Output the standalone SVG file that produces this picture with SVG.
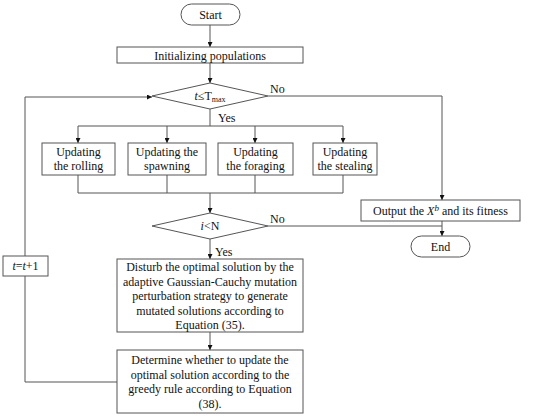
<svg xmlns="http://www.w3.org/2000/svg" width="550" height="417" viewBox="0 0 550 417">
<style>
.n{fill:#fff;stroke:#555;stroke-width:1}
.t{font-family:"Liberation Serif","Times New Roman",serif;font-size:12px;fill:#111;text-anchor:middle}
.l{font-family:"Liberation Serif","Times New Roman",serif;font-size:12px;fill:#111}
.c{fill:none;stroke:#555;stroke-width:1}
</style>
<defs>
<marker id="a" viewBox="0 0 8 8" refX="8" refY="4" markerWidth="5" markerHeight="5" orient="auto" markerUnits="userSpaceOnUse">
<path d="M0,0 L8,4 L0,8 Z" fill="#111"/>
</marker>
</defs>
<rect width="550" height="417" fill="#fff"/>
<g id="connectors">
<path class="c" d="M210 25 V47" marker-end="url(#a)"/>
<path class="c" d="M210 63 V83" marker-end="url(#a)"/>
<path class="c" d="M268 96 H442 V200" marker-end="url(#a)"/>
<path class="c" d="M210 109 V126 M78 126 H343"/>
<path class="c" d="M78 126 V143" marker-end="url(#a)"/>
<path class="c" d="M167 126 V143" marker-end="url(#a)"/>
<path class="c" d="M255 126 V143" marker-end="url(#a)"/>
<path class="c" d="M343 126 V143" marker-end="url(#a)"/>
<path class="c" d="M78 175 V193 H343 M167 175 V193 M255 175 V193 M343 175 V193"/>
<path class="c" d="M210 193 V213" marker-end="url(#a)"/>
<path class="c" d="M268 226 H442"/>
<path class="c" d="M442 221 V236" marker-end="url(#a)"/>
<path class="c" d="M210 239 V259" marker-end="url(#a)"/>
<path class="c" d="M210 332 V350" marker-end="url(#a)"/>
<path class="c" d="M117 382 H25 V276"/>
<path class="c" d="M25 256 V97 H152" marker-end="url(#a)"/>
<text class="l" x="270" y="93">No</text>
<text class="l" x="218" y="122">Yes</text>
<text class="l" x="270" y="223">No</text>
<text class="l" x="215" y="256">Yes</text>
</g>
<g id="start">
<rect class="n" x="181" y="4" width="59" height="21" rx="10.5"/>
<text class="t" x="210.5" y="19">Start</text>
</g>
<g id="init">
<rect class="n" x="117" y="47" width="186" height="16"/>
<text class="t" x="210" y="59.5">Initializing  populations</text>
</g>
<g id="cond1">
<polygon class="n" points="152,96 210,83 268,96 210,109"/>
<text class="t" x="210" y="100"><tspan font-style="italic">t</tspan>≤T<tspan font-size="8" dy="2">max</tspan></text>
</g>
<g id="rolling">
<rect class="n" x="42" y="143" width="73" height="32"/>
<text class="t" x="78.5" y="156">Updating</text>
<text class="t" x="78.5" y="170">the rolling</text>
</g>
<g id="spawning">
<rect class="n" x="128" y="143" width="78" height="32"/>
<text class="t" x="167" y="156">Updating the</text>
<text class="t" x="167" y="170">spawning</text>
</g>
<g id="foraging">
<rect class="n" x="218" y="143" width="75" height="32"/>
<text class="t" x="255.5" y="156">Updating</text>
<text class="t" x="255.5" y="170">the foraging</text>
</g>
<g id="stealing">
<rect class="n" x="313" y="143" width="64" height="32"/>
<text class="t" x="345" y="156">Updating</text>
<text class="t" x="345" y="170">the stealing</text>
</g>
<g id="cond2">
<polygon class="n" points="152,226 210,213 268,226 210,239"/>
<text class="t" x="210" y="230"><tspan font-style="italic">i</tspan>&lt;N</text>
</g>
<g id="output">
<rect class="n" x="361" y="200" width="159" height="21"/>
<text class="t" x="440.5" y="215">Output the <tspan font-style="italic">X</tspan><tspan font-style="italic" font-size="9" dy="-4">b</tspan><tspan dy="4"> and its fitness</tspan></text>
</g>
<g id="end">
<rect class="n" x="411" y="236" width="59" height="21" rx="10.5"/>
<text class="t" x="440.5" y="251">End</text>
</g>
<g id="disturb">
<rect class="n" x="117" y="259" width="186" height="73"/>
<text class="t" x="210" y="271">Disturb the optimal solution by the</text>
<text class="t" x="210" y="286">adaptive Gaussian-Cauchy mutation</text>
<text class="t" x="210" y="300">perturbation strategy to generate</text>
<text class="t" x="210" y="315">mutated solutions according to</text>
<text class="t" x="210" y="329">Equation (35).</text>
</g>
<g id="determine">
<rect class="n" x="117" y="350" width="186" height="63"/>
<text class="t" x="210" y="364">Determine whether to update the</text>
<text class="t" x="210" y="379">optimal solution according to the</text>
<text class="t" x="210" y="393">greedy rule according to Equation</text>
<text class="t" x="210" y="408">(38).</text>
</g>
<g id="increment">
<rect class="n" x="3" y="256" width="45" height="20"/>
<text class="t" x="25.5" y="270"><tspan font-style="italic">t</tspan>=<tspan font-style="italic">t</tspan>+1</text>
</g>
</svg>
